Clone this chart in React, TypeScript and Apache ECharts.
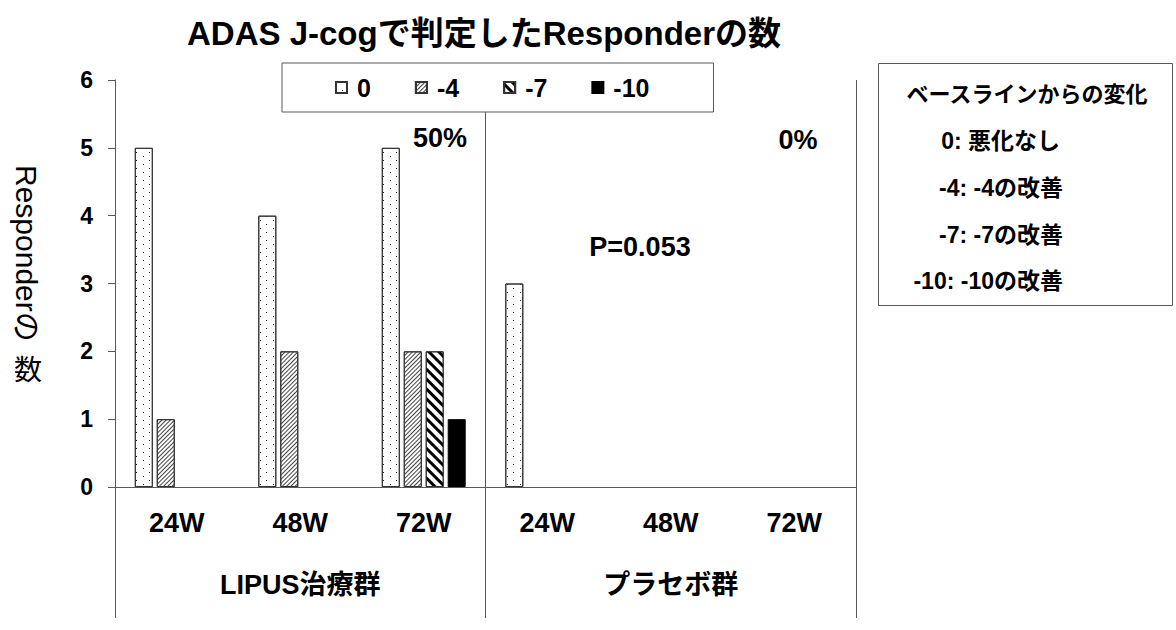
import React, { useEffect, useRef } from 'react';
import * as echarts from 'echarts';

const categories = ['24W', '48W', '72W', '24W', '48W', '72W'];
const groups = ['LIPUS治療群', 'プラセボ群'];
const seriesNames = ['0', '-4', '-7', '-10'];
const values0 = [5, 4, 5, 3, 0, 0];
const valuesM4 = [1, 2, 2, 0, 0, 0];
const valuesM7 = [0, 0, 2, 0, 0, 0];
const valuesM10 = [0, 0, 1, 0, 0, 0];
const yMin = 0;
const yMax = 6;
const yInterval = 1;
const titleText = 'ADAS J-cogで判定したResponderの数';
const yNameRotated = 'Responderの';
const yNameUpright = '数';
const noteLipus = '50%';
const notePlacebo = '0%';
const notePValue = 'P=0.053';
const boxTitle = 'ベースラインからの変化';
const boxLines = ['0: 悪化なし', '-4: -4の改善', '-7: -7の改善', '-10: -10の改善'];

const FONT = "'Liberation Sans', Arial, 'Noto Sans CJK JP', sans-serif";
const AXIS = '#595959';

export default function App() {
  const ref = useRef<HTMLDivElement>(null);
  useEffect(() => {
    if (!ref.current) return;
    const chart = echarts.init(ref.current, null, { renderer: 'svg' });
    const base = { type: 'bar', barWidth: 18, barGap: '22%', xAxisIndex: 0, yAxisIndex: 0 };
    const dataSets = [values0, valuesM4, valuesM7, valuesM10];
    const styles: any[] = [
      {
        color: '#fff', borderColor: '#333', borderWidth: 1,
        decal: { symbol: 'rect', symbolSize: 1, symbolKeepAspect: false, color: '#222', backgroundColor: '#fff', dashArrayX: [[1, 12], [0, 6, 1, 6]], dashArrayY: [1, 3], rotation: 0 },
      },
      {
        color: '#fff', borderColor: '#333', borderWidth: 1,
        decal: { symbol: 'rect', symbolSize: 1, symbolKeepAspect: false, color: '#444', backgroundColor: '#fff', dashArrayX: [1, 0], dashArrayY: [1, 2], rotation: -Math.PI / 4 },
      },
      {
        color: '#fff', borderColor: '#333', borderWidth: 1,
        decal: { symbol: 'rect', symbolSize: 1, symbolKeepAspect: false, color: '#000', backgroundColor: '#fff', dashArrayX: [1, 0], dashArrayY: [2.5, 3.5], rotation: Math.PI / 4 },
      },
      { color: '#000', borderColor: '#000', borderWidth: 1 },
    ];
    // a count of zero draws no bar
    const series = seriesNames.map((name, i) => ({
      ...base,
      name,
      data: dataSets[i].map((v) => (v === 0 ? '-' : v)),
      itemStyle: styles[i],
      emphasis: { disabled: true },
    }));

    const txt = (text: string, x: number, y: number, size: number, extra: any = {}) => ({
      type: 'text',
      x, y,
      style: { text, fontSize: size, fontWeight: 'bold', fontFamily: FONT, fill: '#000', textAlign: 'center', textVerticalAlign: 'middle', ...extra },
    });

    chart.setOption({
      animation: false,
      textStyle: { fontFamily: FONT },
      grid: { left: 115, right: 320, top: 80, bottom: 143, containLabel: false },
      legend: {
        data: seriesNames,
        left: 282, top: 63,
        icon: 'rect', itemWidth: 11, itemHeight: 11, itemGap: 44,
        padding: [12, 64, 12, 53],
        borderColor: AXIS, borderWidth: 1, backgroundColor: '#fff',
        textStyle: { fontSize: 25, fontWeight: 'bold', color: '#000', fontFamily: FONT, padding: [0, 0, 0, 5] },
        selectedMode: false,
      },
      xAxis: [
        {
          type: 'category', data: categories, position: 'bottom',
          axisLine: { show: true, lineStyle: { color: AXIS, width: 1 } },
          axisTick: { show: false },
          axisLabel: { margin: 22, fontSize: 27, fontWeight: 'bold', color: '#000', fontFamily: FONT, interval: 0 },
          splitLine: { show: false },
        },
        {
          type: 'category', data: groups, position: 'bottom', offset: 0,
          axisLine: { show: false },
          axisTick: { show: true, length: 131, lineStyle: { color: AXIS, width: 1 } },
          axisLabel: { margin: 84, fontSize: 27, fontWeight: 'bold', color: '#000', fontFamily: FONT, interval: 0 },
          splitLine: { show: true, lineStyle: { color: AXIS, width: 1 } },
        },
      ],
      yAxis: {
        type: 'value', min: yMin, max: yMax, interval: yInterval,
        axisLine: { show: true, lineStyle: { color: AXIS, width: 1 } },
        axisTick: { show: true, length: 7, lineStyle: { color: AXIS } },
        axisLabel: { margin: 22, fontSize: 23, fontWeight: 'bold', color: '#000', fontFamily: FONT },
        splitLine: { show: false },
      },
      series,
      graphic: [
        txt(titleText, 484, 33, 33),
        {
          type: 'text', x: 26, y: 165, rotation: -Math.PI / 2,
          style: { text: yNameRotated, fontSize: 30, fontFamily: FONT, fill: '#000', textAlign: 'left', textVerticalAlign: 'middle' },
        },
        {
          type: 'text', x: 28, y: 370,
          style: { text: yNameUpright, fontSize: 28, fontFamily: FONT, fill: '#000', textAlign: 'center', textVerticalAlign: 'middle' },
        },
        txt(noteLipus, 440, 138, 27),
        txt(notePlacebo, 798, 140, 27),
        txt(notePValue, 640, 247, 27),
        {
          type: 'rect', shape: { x: 878.5, y: 63.5, width: 294, height: 242 },
          style: { fill: '#fff', stroke: AXIS, lineWidth: 1 },
        },
        txt(boxTitle, 1027, 94, 22),
        txt(boxLines[0], 1060, 141, 23, { textAlign: 'right' }),
        txt(boxLines[1], 1063, 188, 23, { textAlign: 'right' }),
        txt(boxLines[2], 1063, 235, 23, { textAlign: 'right' }),
        txt(boxLines[3], 1063, 281, 23, { textAlign: 'right' }),
      ],
    });
    return () => chart.dispose();
  }, []);
  return <div ref={ref} style={{ position: 'absolute', left: 0, top: 0, width: 1176, height: 630 }} />;
}
